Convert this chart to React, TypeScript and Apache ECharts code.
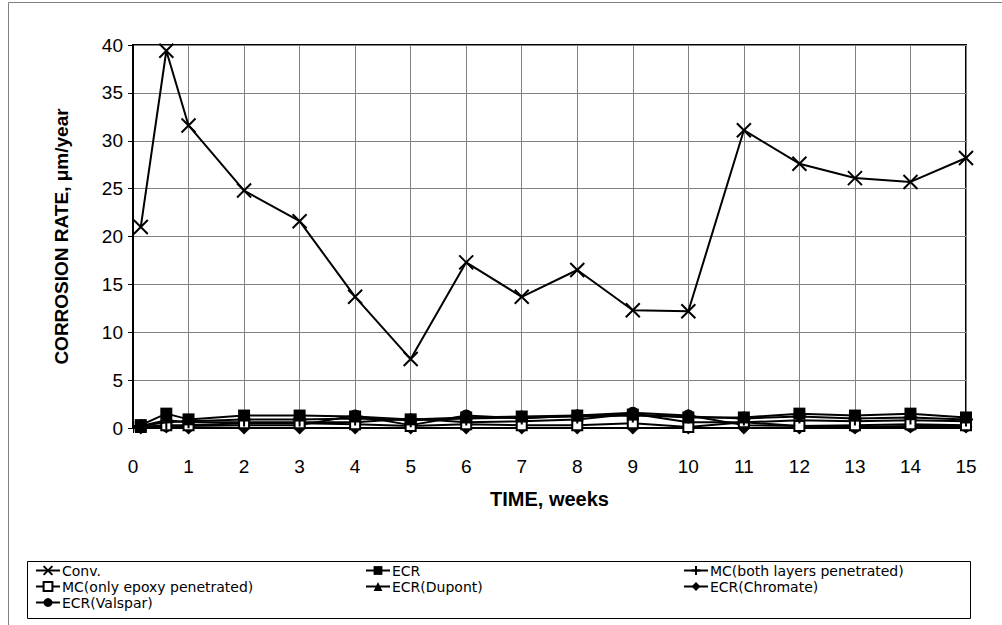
import React, { useEffect, useRef } from "react";
import * as echarts from "echarts";

const weeks = [0.14, 0.6, 1, 2, 3, 4, 5, 6, 7, 8, 9, 10, 11, 12, 13, 14, 15];
const conv = [21.0, 39.4, 31.6, 24.8, 21.6, 13.7, 7.2, 17.3, 13.7, 16.5, 12.3, 12.2, 31.1, 27.6, 26.1, 25.7, 28.2];
const ecr = [0.3, 1.5, 0.9, 1.3, 1.3, 1.2, 0.9, 1.1, 1.2, 1.3, 1.4, 1.1, 1.1, 1.5, 1.3, 1.5, 1.1];
const mcBoth = [0.2, 0.6, 0.7, 0.9, 0.9, 1.0, 0.8, 1.0, 1.1, 1.2, 1.3, 1.2, 1.0, 1.2, 1.0, 1.1, 0.9];
const mcEpoxy = [0.1, 0.3, 0.3, 0.5, 0.5, 0.4, 0.2, 0.4, 0.3, 0.3, 0.5, 0.1, 0.6, 0.2, 0.3, 0.4, 0.3];
const ecrDupont = [0.2, 0.8, 0.6, 0.6, 0.6, 0.6, 1.0, 0.6, 0.7, 0.9, 1.5, 0.6, 0.6, 0.8, 0.7, 0.8, 0.7];
const ecrChromate = [0.0, 0.1, 0.0, 0.0, 0.0, 0.0, 0.0, 0.0, 0.0, 0.0, 0.0, 0.0, 0.0, 0.0, 0.0, 0.1, 0.1];
const ecrValspar = [0.1, 0.2, 0.2, 0.3, 0.3, 1.3, 0.3, 1.3, 1.0, 1.3, 1.6, 1.3, 0.3, 0.2, 0.1, 0.2, 0.2];

const seriesNames = [
  "Conv.",
  "ECR",
  "MC(both layers penetrated)",
  "MC(only epoxy penetrated)",
  "ECR(Dupont)",
  "ECR(Chromate)",
  "ECR(Valspar)",
];
const seriesValues = [conv, ecr, mcBoth, mcEpoxy, ecrDupont, ecrChromate, ecrValspar];

const xAxisTitle = "TIME, weeks";
const yAxisTitle = "CORROSION RATE, μm/year";

const FONT = "'Liberation Sans', Arial, sans-serif";
const LEGEND_FONT = "'DejaVu Sans', 'Liberation Sans', sans-serif";

const symbols = [
  "path://M0,0L10,10M10,0L0,10",
  "rect",
  "path://M5,0L5,10M0,5L10,5",
  "emptyRect",
  "triangle",
  "diamond",
  "circle",
];
const symbolSizes = [14, 12, 14, 10, 12, 13, 12];

const legendPos = [
  { left: 35, top: 563 },
  { left: 365, top: 563 },
  { left: 683, top: 563 },
  { left: 35, top: 579 },
  { left: 365, top: 579 },
  { left: 683, top: 579 },
  { left: 35, top: 595 },
];

export default function App() {
  const ref = useRef<HTMLDivElement>(null);
  useEffect(() => {
    if (!ref.current) return;
    const chart = echarts.init(ref.current, undefined, { renderer: "svg" });
    const series = seriesNames.map((name, i) => {
      const isStroke = i === 0 || i === 2;
      return {
        name,
        type: "line",
        data: weeks.map((w, j) => [w, seriesValues[i][j]]),
        symbol: symbols[i],
        symbolSize: symbolSizes[i],
        showAllSymbol: true,
        lineStyle: { color: "#000", width: 2 },
        itemStyle: isStroke
          ? { color: "#000", borderColor: "#000", borderWidth: 2 }
          : i === 3
          ? { color: "#000", borderColor: "#000", borderWidth: 1.5 }
          : { color: "#000", borderWidth: 0 },
        z: 10 - i,
      };
    });
    const legends = seriesNames.map((name, i) => ({
      data: [name],
      left: legendPos[i].left,
      top: legendPos[i].top,
      itemWidth: 24,
      itemHeight: 11,
      itemGap: 0,
      padding: 0,
      textStyle: {
        fontFamily: LEGEND_FONT,
        fontSize: 14,
        lineHeight: 15,
        color: "#000",
        padding: [0, 0, 0, -3],
      },
    }));
    chart.setOption({
      animation: false,
      backgroundColor: "#fff",
      textStyle: { fontFamily: FONT },
      legend: legends,
      grid: {
        left: 133,
        top: 45,
        width: 833,
        height: 383,
        show: true,
        borderColor: "#000",
        borderWidth: 2,
        backgroundColor: "transparent",
      },
      xAxis: {
        type: "value",
        min: 0,
        max: 15,
        interval: 1,
        name: xAxisTitle,
        nameLocation: "middle",
        nameGap: 61,
        nameTextStyle: { fontFamily: FONT, fontSize: 20, fontWeight: "bold", color: "#000" },
        axisLine: { show: true, lineStyle: { color: "#000", width: 2 } },
        axisTick: { show: true, length: 5, lineStyle: { color: "#000" } },
        axisLabel: { fontFamily: FONT, fontSize: 19, color: "#000", margin: 29 },
        splitLine: { show: true, lineStyle: { color: "#808080", width: 1 } },
      },
      yAxis: {
        type: "value",
        min: 0,
        max: 40,
        interval: 5,
        name: yAxisTitle,
        nameLocation: "middle",
        nameGap: 62,
        nameTextStyle: { fontFamily: FONT, fontSize: 19, fontWeight: "bold", color: "#000" },
        axisLine: { show: true, lineStyle: { color: "#000", width: 2 } },
        axisTick: { show: true, length: 5, lineStyle: { color: "#000" } },
        axisLabel: { fontFamily: FONT, fontSize: 19, color: "#000", margin: 10 },
        splitLine: { show: true, lineStyle: { color: "#808080", width: 1 } },
      },
      graphic: [
        {
          type: "rect",
          shape: { x: 8.5, y: 2.5, width: 1000, height: 640 },
          style: { fill: "none", stroke: "#808080", lineWidth: 1 },
          silent: true,
          z: -10,
        },
        {
          type: "rect",
          shape: { x: 27.5, y: 561.5, width: 943, height: 57 },
          style: { fill: "none", stroke: "#000", lineWidth: 1 },
          silent: true,
        },
      ],
      series,
    });
    return () => chart.dispose();
  }, []);
  return (
    <div
      ref={ref}
      style={{ position: "fixed", left: 0, top: 0, width: 1002, height: 625 }}
    />
  );
}
